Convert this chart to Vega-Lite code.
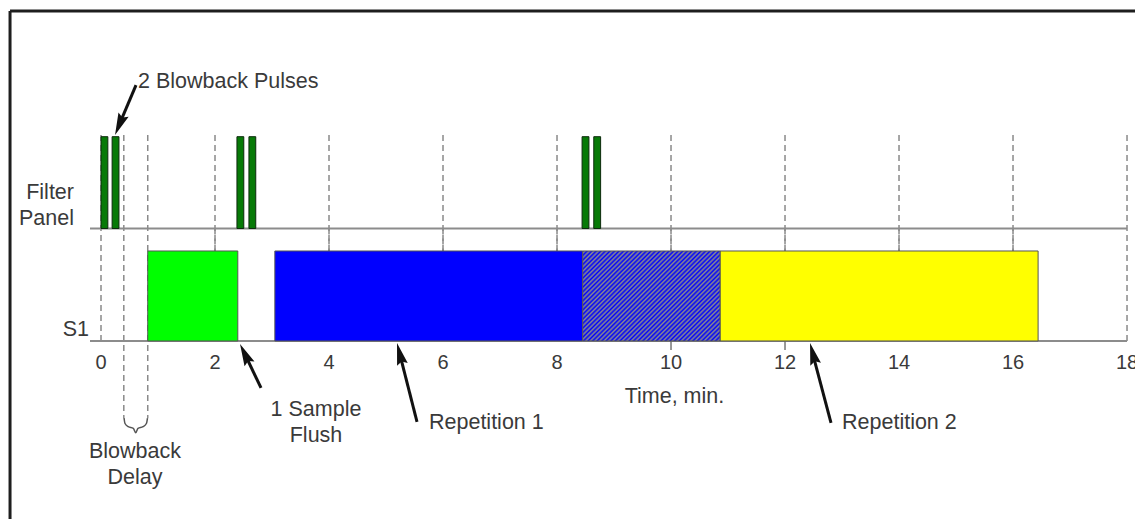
{
  "$schema": "https://vega.github.io/schema/vega-lite/v6.json",
  "width": 1135,
  "height": 519,
  "padding": 0,
  "autosize": {"type": "none"},
  "background": "white",
  "config": {"view": {"stroke": null}, "text": {"font": "Liberation Sans", "fontSize": 21.5, "color": "#3a3a3a"}},
  "datasets": {
    "frame": [
      {"part": "top", "xa": -1.596, "xb": 18.14, "ya": 3.667, "yb": 3.667},
      {"part": "left", "xa": -1.596, "xb": -1.596, "ya": 3.667, "yb": -1.978}
    ],
    "grid": [
      {"t": 0, "top": 2.29, "bottom": 0},
      {"t": 0.4, "top": 2.29, "bottom": -0.856},
      {"t": 0.82, "top": 2.29, "bottom": -0.856},
      {"t": 2, "top": 2.29, "bottom": 1.0},
      {"t": 4, "top": 2.29, "bottom": 1.0},
      {"t": 6, "top": 2.29, "bottom": 1.0},
      {"t": 8, "top": 2.29, "bottom": 1.0},
      {"t": 10, "top": 2.29, "bottom": 1.0},
      {"t": 12, "top": 2.29, "bottom": 1.0},
      {"t": 14, "top": 2.29, "bottom": 1.0},
      {"t": 16, "top": 2.29, "bottom": 1.0},
      {"t": 18, "top": 2.29, "bottom": 0}
    ],
    "baselines": [
      {"row": "S1", "level": 0, "start": -0.193, "end": 18},
      {"row": "Filter Panel", "level": 1.25, "start": -0.193, "end": 18}
    ],
    "ticks": [{"t": 10}, {"t": 12}],
    "segments": [
      {"name": "Flush", "start": 0.82, "end": 2.4},
      {"name": "Repetition 1", "start": 3.05, "end": 8.45},
      {"name": "Repetition 2", "start": 10.86, "end": 16.44}
    ],
    "overlap": [{"name": "Overlap", "start": 8.45, "end": 10.86}],
    "pulses": [
      {"start": 0.0, "end": 0.12},
      {"start": 0.195, "end": 0.315},
      {"start": 2.385, "end": 2.505},
      {"start": 2.595, "end": 2.715},
      {"start": 8.44, "end": 8.56},
      {"start": 8.645, "end": 8.765}
    ],
    "arrows": [
      {"id": "pulses", "tx": 0.614, "ty": 2.844, "sx": 0.326, "sy": 2.412, "hx": 0.246, "hy": 2.289},
      {"id": "flush", "tx": 2.807, "ty": -0.522, "sx": 2.53, "sy": -0.153, "hx": 2.439, "hy": -0.033},
      {"id": "rep1", "tx": 5.544, "ty": -0.9, "sx": 5.244, "sy": -0.151, "hx": 5.193, "hy": -0.022},
      {"id": "rep2", "tx": 12.807, "ty": -0.911, "sx": 12.49, "sy": -0.151, "hx": 12.439, "hy": -0.022}
    ],
    "notesLeft": [
      {"text": "2 Blowback Pulses", "x": 0.649, "y": 2.878},
      {"text": "Repetition 1", "x": 5.754, "y": -0.911},
      {"text": "Repetition 2", "x": 13.0, "y": -0.911}
    ],
    "notesCenter": [
      {"text": "1 Sample\nFlush", "x": 3.772, "y": -0.767},
      {"text": "Blowback\nDelay", "x": 0.596, "y": -1.233},
      {"text": "Time, min.", "x": 10.06, "y": -0.619}
    ],
    "notesRight": [
      {"text": "Filter\nPanel", "x": -0.474, "y": 1.644},
      {"text": "S1", "x": -0.211, "y": 0.122}
    ],
    "tickLabels": [
      {"v": 0}, {"v": 2}, {"v": 4}, {"v": 6}, {"v": 8}, {"v": 10}, {"v": 12}, {"v": 14}, {"v": 16}, {"v": 18}
    ],
    "brace": [
      {"i": 0, "x": 0.404, "y": -0.856},
      {"i": 1, "x": 0.421, "y": -0.917},
      {"i": 2, "x": 0.479, "y": -0.952},
      {"i": 3, "x": 0.567, "y": -0.97},
      {"i": 4, "x": 0.609, "y": -1.019},
      {"i": 5, "x": 0.649, "y": -0.97},
      {"i": 6, "x": 0.737, "y": -0.952},
      {"i": 7, "x": 0.796, "y": -0.917},
      {"i": 8, "x": 0.816, "y": -0.856}
    ]
  },
  "layer": [
    {
      "data": {"name": "frame"},
      "mark": {"type": "rule", "stroke": "#1e1e1e", "strokeWidth": 3},
      "encoding": {
        "x": {"field": "xa", "type": "quantitative", "axis": null, "scale": {"domain": [-1.772, 18.14], "nice": false, "zero": false}},
        "x2": {"field": "xb"},
        "y": {"field": "ya", "type": "quantitative", "axis": null, "scale": {"domain": [-1.978, 3.789], "nice": false, "zero": false}},
        "y2": {"field": "yb"}
      }
    },
    {
      "data": {"name": "grid"},
      "mark": {"type": "rule", "stroke": "#8a8a8a", "strokeWidth": 1.5, "strokeDash": [6, 4]},
      "encoding": {
        "x": {"field": "t", "type": "quantitative"},
        "y": {"field": "top", "type": "quantitative"},
        "y2": {"field": "bottom"}
      }
    },
    {
      "data": {"name": "grid"},
      "transform": [{"filter": "datum.bottom > 0"}],
      "mark": {"type": "rule", "stroke": "#8a8a8a", "strokeWidth": 1.5, "strokeDash": [6, 4]},
      "encoding": {
        "x": {"field": "t", "type": "quantitative"},
        "y": {"datum": 1.25},
        "y2": {"datum": 0}
      }
    },
    {
      "data": {"name": "baselines"},
      "mark": {"type": "rule", "stroke": "#8c8c8c", "strokeWidth": 2},
      "encoding": {
        "x": {"field": "start", "type": "quantitative"},
        "x2": {"field": "end"},
        "y": {"field": "level", "type": "quantitative"}
      }
    },
    {
      "data": {"name": "ticks"},
      "mark": {"type": "rule", "stroke": "#777777", "strokeWidth": 1.5},
      "encoding": {
        "x": {"field": "t", "type": "quantitative"},
        "y": {"datum": 0},
        "y2": {"datum": -0.1}
      }
    },
    {
      "data": {"name": "segments"},
      "mark": {"type": "rect", "stroke": "#555555", "strokeWidth": 1},
      "encoding": {
        "x": {"field": "start", "type": "quantitative"},
        "x2": {"field": "end"},
        "y": {"datum": 1},
        "y2": {"datum": 0},
        "fill": {"field": "name", "type": "nominal", "legend": null, "scale": {"domain": ["Flush", "Repetition 1", "Repetition 2"], "range": ["#00ff00", "#0000ff", "#ffff00"]}}
      }
    },
    {
      "data": {"name": "overlap"},
      "mark": {
        "type": "rect",
        "stroke": "#555555",
        "strokeWidth": 1,
        "fill": {
          "gradient": "linear",
          "x1": 0, "y1": 0, "x2": 1.1575, "y2": 0.7605,
          "stops": [
            {"offset": 0, "color": "#0000ff"}, {"offset": 0.01, "color": "#8c8c8c"},
            {"offset": 0.02, "color": "#0000ff"}, {"offset": 0.03, "color": "#8c8c8c"},
            {"offset": 0.04, "color": "#0000ff"}, {"offset": 0.05, "color": "#8c8c8c"},
            {"offset": 0.06, "color": "#0000ff"}, {"offset": 0.07, "color": "#8c8c8c"},
            {"offset": 0.08, "color": "#0000ff"}, {"offset": 0.09, "color": "#8c8c8c"},
            {"offset": 0.10, "color": "#0000ff"}, {"offset": 0.11, "color": "#8c8c8c"},
            {"offset": 0.12, "color": "#0000ff"}, {"offset": 0.13, "color": "#8c8c8c"},
            {"offset": 0.14, "color": "#0000ff"}, {"offset": 0.15, "color": "#8c8c8c"},
            {"offset": 0.16, "color": "#0000ff"}, {"offset": 0.17, "color": "#8c8c8c"},
            {"offset": 0.18, "color": "#0000ff"}, {"offset": 0.19, "color": "#8c8c8c"},
            {"offset": 0.20, "color": "#0000ff"}, {"offset": 0.21, "color": "#8c8c8c"},
            {"offset": 0.22, "color": "#0000ff"}, {"offset": 0.23, "color": "#8c8c8c"},
            {"offset": 0.24, "color": "#0000ff"}, {"offset": 0.25, "color": "#8c8c8c"},
            {"offset": 0.26, "color": "#0000ff"}, {"offset": 0.27, "color": "#8c8c8c"},
            {"offset": 0.28, "color": "#0000ff"}, {"offset": 0.29, "color": "#8c8c8c"},
            {"offset": 0.30, "color": "#0000ff"}, {"offset": 0.31, "color": "#8c8c8c"},
            {"offset": 0.32, "color": "#0000ff"}, {"offset": 0.33, "color": "#8c8c8c"},
            {"offset": 0.34, "color": "#0000ff"}, {"offset": 0.35, "color": "#8c8c8c"},
            {"offset": 0.36, "color": "#0000ff"}, {"offset": 0.37, "color": "#8c8c8c"},
            {"offset": 0.38, "color": "#0000ff"}, {"offset": 0.39, "color": "#8c8c8c"},
            {"offset": 0.40, "color": "#0000ff"}, {"offset": 0.41, "color": "#8c8c8c"},
            {"offset": 0.42, "color": "#0000ff"}, {"offset": 0.43, "color": "#8c8c8c"},
            {"offset": 0.44, "color": "#0000ff"}, {"offset": 0.45, "color": "#8c8c8c"},
            {"offset": 0.46, "color": "#0000ff"}, {"offset": 0.47, "color": "#8c8c8c"},
            {"offset": 0.48, "color": "#0000ff"}, {"offset": 0.49, "color": "#8c8c8c"},
            {"offset": 0.50, "color": "#0000ff"}, {"offset": 0.51, "color": "#8c8c8c"},
            {"offset": 0.52, "color": "#0000ff"}, {"offset": 0.53, "color": "#8c8c8c"},
            {"offset": 0.54, "color": "#0000ff"}, {"offset": 0.55, "color": "#8c8c8c"},
            {"offset": 0.56, "color": "#0000ff"}, {"offset": 0.57, "color": "#8c8c8c"},
            {"offset": 0.58, "color": "#0000ff"}, {"offset": 0.59, "color": "#8c8c8c"},
            {"offset": 0.60, "color": "#0000ff"}, {"offset": 0.61, "color": "#8c8c8c"},
            {"offset": 0.62, "color": "#0000ff"}, {"offset": 0.63, "color": "#8c8c8c"},
            {"offset": 0.64, "color": "#0000ff"}, {"offset": 0.65, "color": "#8c8c8c"},
            {"offset": 0.66, "color": "#0000ff"}, {"offset": 0.67, "color": "#8c8c8c"},
            {"offset": 0.68, "color": "#0000ff"}, {"offset": 0.69, "color": "#8c8c8c"},
            {"offset": 0.70, "color": "#0000ff"}, {"offset": 0.71, "color": "#8c8c8c"},
            {"offset": 0.72, "color": "#0000ff"}, {"offset": 0.73, "color": "#8c8c8c"},
            {"offset": 0.74, "color": "#0000ff"}, {"offset": 0.75, "color": "#8c8c8c"},
            {"offset": 0.76, "color": "#0000ff"}, {"offset": 0.77, "color": "#8c8c8c"},
            {"offset": 0.78, "color": "#0000ff"}, {"offset": 0.79, "color": "#8c8c8c"},
            {"offset": 0.80, "color": "#0000ff"}, {"offset": 0.81, "color": "#8c8c8c"},
            {"offset": 0.82, "color": "#0000ff"}, {"offset": 0.83, "color": "#8c8c8c"},
            {"offset": 0.84, "color": "#0000ff"}, {"offset": 0.85, "color": "#8c8c8c"},
            {"offset": 0.86, "color": "#0000ff"}, {"offset": 0.87, "color": "#8c8c8c"},
            {"offset": 0.88, "color": "#0000ff"}, {"offset": 0.89, "color": "#8c8c8c"},
            {"offset": 0.90, "color": "#0000ff"}, {"offset": 0.91, "color": "#8c8c8c"},
            {"offset": 0.92, "color": "#0000ff"}, {"offset": 0.93, "color": "#8c8c8c"},
            {"offset": 0.94, "color": "#0000ff"}, {"offset": 0.95, "color": "#8c8c8c"},
            {"offset": 0.96, "color": "#0000ff"}, {"offset": 0.97, "color": "#8c8c8c"},
            {"offset": 0.98, "color": "#0000ff"}, {"offset": 0.99, "color": "#8c8c8c"},
            {"offset": 1, "color": "#0000ff"}
          ]
        }
      },
      "encoding": {
        "x": {"field": "start", "type": "quantitative"},
        "x2": {"field": "end"},
        "y": {"datum": 1},
        "y2": {"datum": 0}
      }
    },
    {
      "data": {"name": "pulses"},
      "mark": {"type": "rect", "fill": "#077a07", "stroke": "#0d2a0d", "strokeWidth": 1},
      "encoding": {
        "x": {"field": "start", "type": "quantitative"},
        "x2": {"field": "end"},
        "y": {"datum": 2.27},
        "y2": {"datum": 1.25}
      }
    },
    {
      "data": {"name": "arrows"},
      "mark": {"type": "rule", "stroke": "#111111", "strokeWidth": 3},
      "encoding": {
        "x": {"field": "tx", "type": "quantitative"},
        "x2": {"field": "sx"},
        "y": {"field": "ty", "type": "quantitative"},
        "y2": {"field": "sy"}
      }
    },
    {
      "data": {"name": "arrows"},
      "transform": [{"filter": "datum.id === 'pulses'"}],
      "mark": {"type": "point", "shape": "M0,0L0.55,2.2L0,1.9L-0.55,2.2Z", "filled": true, "fill": "#111111", "opacity": 1, "size": 400, "angle": 202.8},
      "encoding": {"x": {"field": "hx", "type": "quantitative"}, "y": {"field": "hy", "type": "quantitative"}}
    },
    {
      "data": {"name": "arrows"},
      "transform": [{"filter": "datum.id === 'flush'"}],
      "mark": {"type": "point", "shape": "M0,0L0.55,2.2L0,1.9L-0.55,2.2Z", "filled": true, "fill": "#111111", "opacity": 1, "size": 400, "angle": 334.5},
      "encoding": {"x": {"field": "hx", "type": "quantitative"}, "y": {"field": "hy", "type": "quantitative"}}
    },
    {
      "data": {"name": "arrows"},
      "transform": [{"filter": "datum.id === 'rep1'"}],
      "mark": {"type": "point", "shape": "M0,0L0.55,2.2L0,1.9L-0.55,2.2Z", "filled": true, "fill": "#111111", "opacity": 1, "size": 400, "angle": 345.8},
      "encoding": {"x": {"field": "hx", "type": "quantitative"}, "y": {"field": "hy", "type": "quantitative"}}
    },
    {
      "data": {"name": "arrows"},
      "transform": [{"filter": "datum.id === 'rep2'"}],
      "mark": {"type": "point", "shape": "M0,0L0.55,2.2L0,1.9L-0.55,2.2Z", "filled": true, "fill": "#111111", "opacity": 1, "size": 400, "angle": 345.3},
      "encoding": {"x": {"field": "hx", "type": "quantitative"}, "y": {"field": "hy", "type": "quantitative"}}
    },
    {
      "data": {"name": "brace"},
      "mark": {"type": "line", "stroke": "#555555", "strokeWidth": 1.5, "interpolate": "monotone"},
      "encoding": {
        "x": {"field": "x", "type": "quantitative"},
        "y": {"field": "y", "type": "quantitative"},
        "order": {"field": "i", "type": "quantitative"}
      }
    },
    {
      "data": {"name": "notesLeft"},
      "mark": {"type": "text", "align": "left", "baseline": "middle"},
      "encoding": {
        "x": {"field": "x", "type": "quantitative"},
        "y": {"field": "y", "type": "quantitative"},
        "text": {"field": "text"}
      }
    },
    {
      "data": {"name": "notesCenter"},
      "mark": {"type": "text", "align": "center", "baseline": "middle", "lineBreak": "\n", "lineHeight": 26},
      "encoding": {
        "x": {"field": "x", "type": "quantitative"},
        "y": {"field": "y", "type": "quantitative"},
        "text": {"field": "text"}
      }
    },
    {
      "data": {"name": "notesRight"},
      "mark": {"type": "text", "align": "right", "baseline": "middle", "lineBreak": "\n", "lineHeight": 26},
      "encoding": {
        "x": {"field": "x", "type": "quantitative"},
        "y": {"field": "y", "type": "quantitative"},
        "text": {"field": "text"}
      }
    },
    {
      "data": {"name": "tickLabels"},
      "mark": {"type": "text", "align": "center", "baseline": "middle", "fontSize": 20},
      "encoding": {
        "x": {"field": "v", "type": "quantitative"},
        "y": {"datum": -0.244},
        "text": {"field": "v", "type": "quantitative"}
      }
    }
  ]
}
